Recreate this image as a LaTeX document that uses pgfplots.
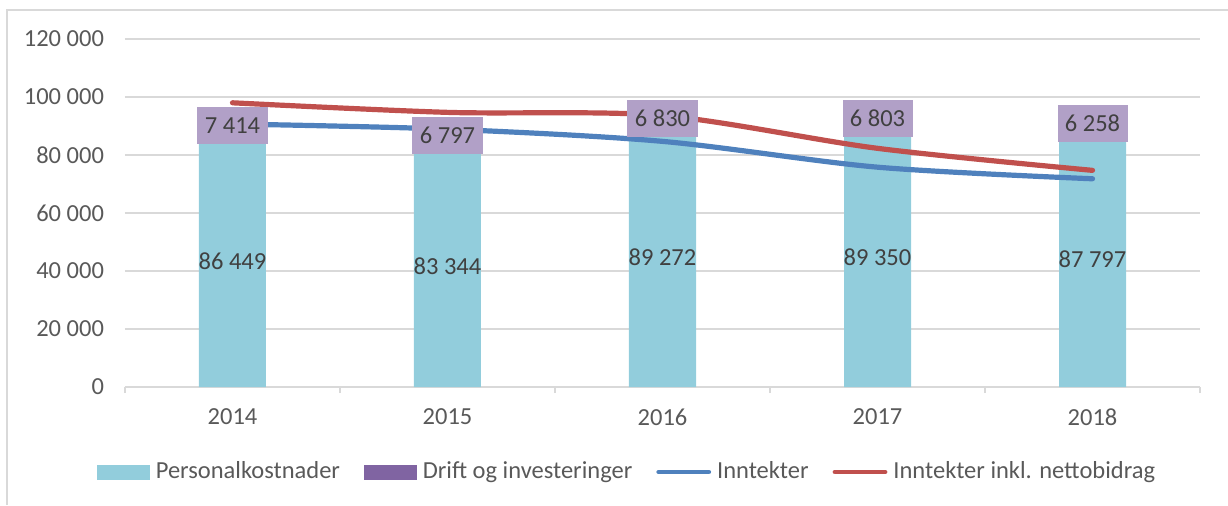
\documentclass[border=0pt]{standalone}
\usepackage{fontspec}
\setmainfont{Carlito}
\usepackage{pgfplots}
\pgfplotsset{compat=1.18}
\definecolor{cyanbar}{HTML}{92CDDC}
\definecolor{purplebar}{HTML}{8064A2}
\definecolor{labelbox}{HTML}{B1A0C7}
\definecolor{blueline}{HTML}{4F81BD}
\definecolor{redline}{HTML}{C0504D}
\definecolor{gridgray}{HTML}{D9D9D9}
\definecolor{ticktext}{HTML}{595959}
\definecolor{labeltext}{HTML}{404040}
\newcommand\chartfont{\fontsize{12.25}{14.7}\selectfont}
% values in thousands
\pgfplotsset{base/.style={scale only axis, width=537.5pt, height=174pt,
  at={(62.5pt,59pt)}, anchor=south west, xmin=-0.5, xmax=4.5,
  ymin=0, ymax=120, clip=false}}
\begin{document}
\begin{tikzpicture}
\path[use as bounding box] (0,0) rectangle (614pt,252.5pt);
\draw[gridgray, line width=1pt] (3.5pt,0pt) -- (3.5pt,247.5pt) -- (614pt,247.5pt);

\begin{axis}[base,
  ybar stacked, bar width=33.5pt,
  axis x line*=bottom, axis y line*=left,
  y axis line style={draw=none},
  x axis line style={gridgray, line width=0.9pt, -},
  ymajorgrids, grid style={gridgray, line width=0.9pt},
  ytick={0,20,40,60,80,100,120},
  yticklabels={0,20 000,40 000,60 000,80 000,100 000,120 000},
  ytick style={draw=none},
  xtick={0,1,2,3,4}, xticklabels={2014,2015,2016,2017,2018},
  major x tick style={draw=none},
  minor xtick={-0.5,0.5,1.5,2.5,3.5,4.5},
  minor x tick style={gridgray, line width=0.9pt},
  minor tick length=3pt, major tick length=0pt, tick align=outside,
  tick label style={font=\chartfont, text=ticktext},
  yticklabel style={xshift=-7pt},
  xticklabel style={yshift=-7.5pt},
  legend style={at={(0.468,-0.244)}, anchor=center, draw=none, fill=none,
    font=\chartfont, text=ticktext,
    /tikz/every even column/.append style={column sep=10pt},
    /tikz/every odd column/.append style={column sep=1pt}},
  legend columns=4, legend cell align=left,
]
\addlegendimage{legend image code/.code={\fill[cyanbar] (0pt,-3.5pt) rectangle (26pt,3.5pt);}}
\addlegendentry{Personalkostnader}
\addlegendimage{legend image code/.code={\fill[purplebar] (0pt,-3.5pt) rectangle (26pt,3.5pt);}}
\addlegendentry{Drift og investeringer}
\addlegendimage{legend image code/.code={\draw[blueline, line width=2.4pt, line cap=round] (1pt,0pt) -- (26pt,0pt);}}
\addlegendentry{Inntekter}
\addlegendimage{legend image code/.code={\draw[redline, line width=2.4pt, line cap=round] (1pt,0pt) -- (26pt,0pt);}}
\addlegendentry{Inntekter inkl. nettobidrag}

\addplot[fill=cyanbar, draw=none, forget plot,
  nodes near coords, point meta=explicit symbolic,
  nodes near coords align={center},
  every node near coord/.append style={anchor=center, font=\chartfont, text=labeltext}]
  coordinates {(0,86.449)[86 449] (1,83.344)[83 344] (2,89.272)[89 272] (3,89.350)[89 350] (4,87.797)[87 797]};
\addplot[fill=purplebar, draw=none, forget plot]
  coordinates {(0,7.414) (1,6.797) (2,6.830) (3,6.803) (4,6.258)};
\end{axis}

\begin{axis}[base, hide axis]
\addplot[blueline, line width=2.6pt, smooth, tension=0.5, line cap=round]
  coordinates {(0,90.7) (1,88.9) (2,84.7) (3,75.8) (4,71.8)};
\addplot[redline, line width=2.6pt, smooth, tension=0.5, line cap=round]
  coordinates {(0,98.0) (1,94.7) (2,93.6) (3,82.3) (4,74.7)};
\end{axis}

\begin{axis}[base, hide axis, ybar stacked, bar width=33.5pt]
\addplot[draw=none, fill=none]
  coordinates {(0,86.449) (1,83.344) (2,89.272) (3,89.350) (4,87.797)};
\addplot[draw=none, fill=none,
  nodes near coords, point meta=explicit symbolic,
  nodes near coords align={center},
  every node near coord/.append style={anchor=center,
    fill=labelbox, inner xsep=3.7pt, minimum height=18.5pt, font=\chartfont, text=labeltext}]
  coordinates {(0,7.414)[7 414] (1,6.797)[6 797] (2,6.830)[6 830] (3,6.803)[6 803] (4,6.258)[6 258]};
\end{axis}
\end{tikzpicture}
\end{document}
